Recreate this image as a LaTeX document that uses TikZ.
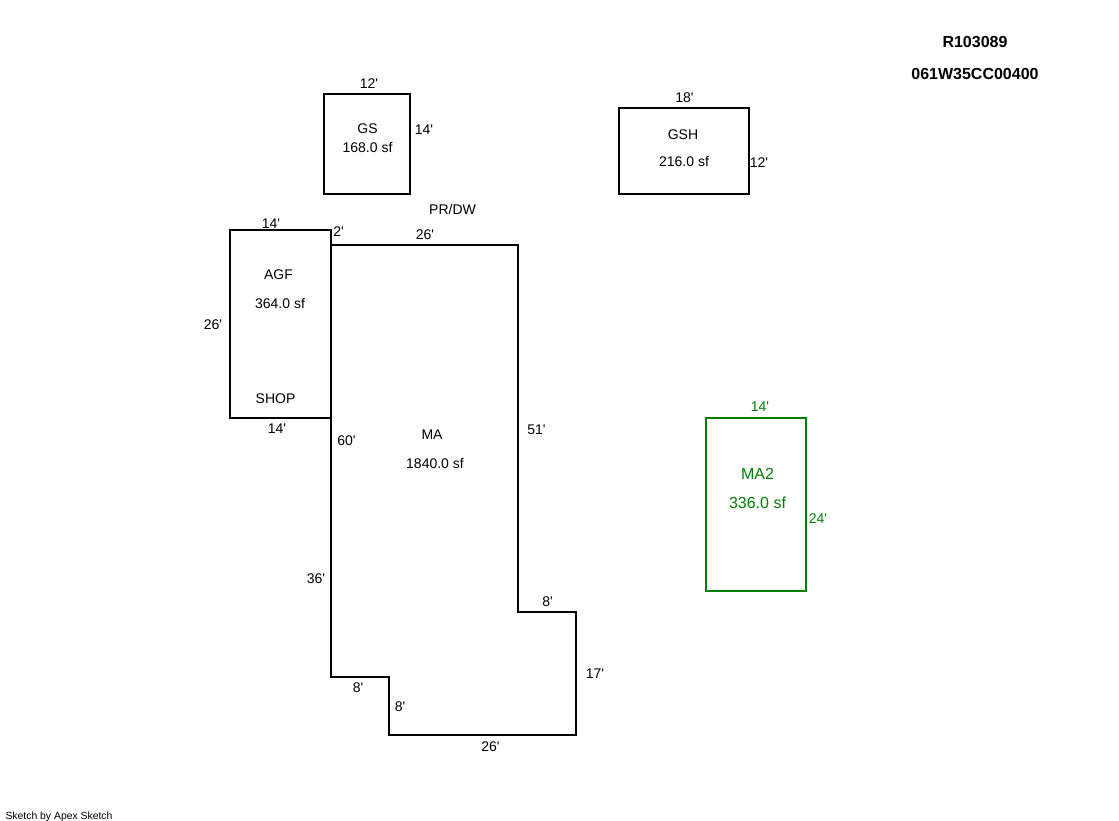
\documentclass[tikz,border=0pt]{standalone}
\usepackage{fontspec}
\setmainfont{Liberation Sans}[Ligatures=TeXOff]
\definecolor{sgreen}{RGB}{0,128,0}
\tikzset{
  x=1pt,y=-1pt,
  lbl/.style={inner sep=0pt,anchor=center,font=\fontsize{14}{16}\selectfont,text=black},
  big/.style={lbl,font=\fontsize{16}{18}\selectfont,text=sgreen},
  grn/.style={lbl,text=sgreen},
  hdr/.style={lbl,font=\fontsize{16}{18}\selectfont\bfseries},
  foot/.style={lbl,font=\fontsize{10.4}{12}\selectfont},
  wall/.style={draw=black,line width=2pt,line join=miter},
  wallg/.style={draw=sgreen,line width=2pt,line join=miter}
}
\begin{document}
\begin{tikzpicture}
\useasboundingbox (0,0) rectangle (1119,821);
\fill[white] (0,0) rectangle (1119,821);
\draw[wall] (324,94) rectangle (410,194);
\draw[wall] (619,108) rectangle (749,194);
\draw[wall] (230,230) rectangle (331,418);
\draw[wall] (331,245) -- (518,245) -- (518,612) -- (576,612) -- (576,735) -- (389,735) -- (389,677) -- (331,677) -- cycle;
\draw[wallg] (706,418) rectangle (806,591);
\node[hdr] (t1) at (975,42) {R103089};
\node[hdr] (t2) at (975,74) {061W35CC00400};
\node[lbl] (a1) at (369,84) {12'};
\node[lbl] (a2) at (424,130) {14'};
\node[lbl] (a3) at (367.5,129) {GS};
\node[lbl] (a4) at (367.5,148) {168.0 sf};
\node[lbl] (b1) at (684.5,98) {18'};
\node[lbl] (b2) at (759,163) {12'};
\node[lbl] (b3) at (683,135) {GSH};
\node[lbl] (b4) at (684,162) {216.0 sf};
\node[lbl] (c0) at (452.5,209) {PR/DW};
\node[lbl] (c1) at (271,224) {14'};
\node[lbl] (c2) at (338.5,232) {2'};
\node[lbl] (c3) at (425,235) {26'};
\node[lbl] (d1) at (278.5,275) {AGF};
\node[lbl] (d2) at (280,304) {364.0 sf};
\node[lbl] (d3) at (213,325) {26'};
\node[lbl] (d4) at (275.5,399) {SHOP};
\node[lbl] (d5) at (277,429) {14'};
\node[lbl] (e1) at (346.5,441) {60'};
\node[lbl] (e2) at (432,435) {MA};
\node[lbl] (e3) at (435,463) {1840.0 sf};
\node[lbl] (e4) at (536.5,430) {51'};
\node[lbl] (e5) at (316,579) {36'};
\node[lbl] (e6) at (547.5,602) {8'};
\node[lbl] (e7) at (595,674) {17'};
\node[lbl] (e8) at (358,688) {8'};
\node[lbl] (e9) at (400,707) {8'};
\node[lbl] (e10) at (490.5,747) {26'};
\node[grn] (f1) at (760,407) {14'};
\node[big] (f2) at (757.5,474) {MA2};
\node[big] (f3) at (757.5,503) {336.0 sf};
\node[grn] (f4) at (818,519) {24'};
\node[foot] (g) at (59,817) {Sketch by Apex Sketch};
\end{tikzpicture}
\end{document}
